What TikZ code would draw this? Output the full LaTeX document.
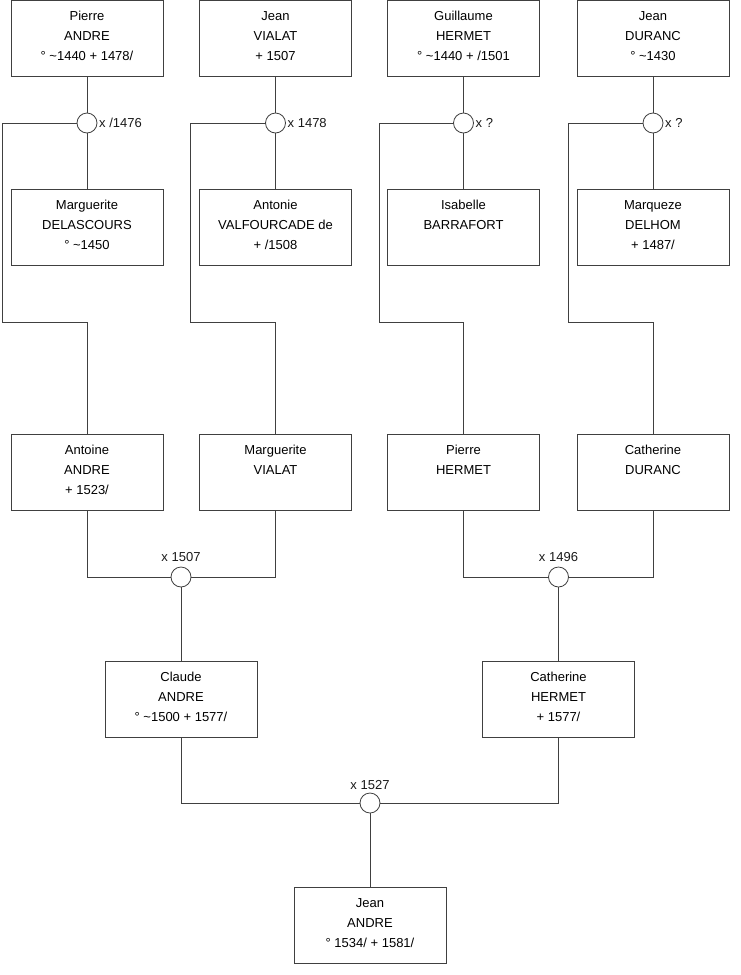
\documentclass[tikz,border=0pt]{standalone}
\usepackage{fontspec}
\setmainfont{Liberation Sans}
\newcommand{\ptxt}[1]{\parbox[t][76pt][t]{152pt}{\centering\fontsize{13}{20}\selectfont\rule{0pt}{20pt}#1}}
\begin{document}
\begin{tikzpicture}[x=1pt,y=1pt,
  person/.style={draw=black!75, line width=1pt, rectangle, inner sep=0pt, fill=white},
  wed/.style={draw=black!75, line width=0.8pt, circle, minimum size=20pt, inner sep=0pt, fill=white},
  lbl/.style={font=\fontsize{13}{15}\selectfont, inner sep=1pt, text=black!90},
  link/.style={draw=black!75, line width=1pt}]
\useasboundingbox (0,0) rectangle (740,-975);
% row 1
\node[person] (p1) at (87,-38) {\ptxt{Pierre\\ANDRE\\° \textasciitilde1440 + 1478/}};
\node[person] (p2) at (275.5,-38) {\ptxt{Jean\\VIALAT\\+ 1507}};
\node[person] (p3) at (463.5,-38) {\ptxt{Guillaume\\HERMET\\° \textasciitilde1440 + /1501}};
\node[person] (p4) at (653,-38) {\ptxt{Jean\\DURANC\\° \textasciitilde1430}};
% row 2
\node[person] (w1) at (87,-227) {\ptxt{Marguerite\\DELASCOURS\\° \textasciitilde1450}};
\node[person] (w2) at (275.5,-227) {\ptxt{Antonie\\VALFOURCADE de\\+ /1508}};
\node[person] (w3) at (463.5,-227) {\ptxt{Isabelle\\BARRAFORT}};
\node[person] (w4) at (653,-227) {\ptxt{Marqueze\\DELHOM\\+ 1487/}};
% row 3
\node[person] (a1) at (87,-472.5) {\ptxt{Antoine\\ANDRE\\+ 1523/}};
\node[person] (a2) at (275.5,-472.5) {\ptxt{Marguerite\\VIALAT}};
\node[person] (a3) at (463.5,-472.5) {\ptxt{Pierre\\HERMET}};
\node[person] (a4) at (653,-472.5) {\ptxt{Catherine\\DURANC}};
% row 4
\node[person] (b1) at (181,-699.5) {\ptxt{Claude\\ANDRE\\° \textasciitilde1500 + 1577/}};
\node[person] (b2) at (558.5,-699.5) {\ptxt{Catherine\\HERMET\\+ 1577/}};
% row 5
\node[person] (j) at (370,-925.5) {\ptxt{Jean\\ANDRE\\° 1534/ + 1581/}};
% marriages
\node[wed] (m1) at (87,-123) {};
\node[wed] (m2) at (275.5,-123) {};
\node[wed] (m3) at (463.5,-123) {};
\node[wed] (m4) at (653,-123) {};
\node[wed] (m5) at (181,-577) {};
\node[wed] (m6) at (558.5,-577) {};
\node[wed] (m7) at (370,-803) {};
% labels
\node[lbl, anchor=west] (l1) at (98,-123) {x /1476};
\node[lbl, anchor=west] (l2) at (286.5,-123) {x 1478};
\node[lbl, anchor=west] (l3) at (474.5,-123) {x ?};
\node[lbl, anchor=west] (l4) at (664,-123) {x ?};
\node[lbl] (l5) at (181,-557) {x 1507};
\node[lbl] (l6) at (558.5,-557) {x 1496};
\node[lbl] (l7) at (370,-785) {x 1527};
% corner coordinates
\coordinate (c1) at (2,-322);
\coordinate (c2) at (190,-322);
\coordinate (c3) at (379,-322);
\coordinate (c4) at (568,-322);
% connectors
\foreach \i in {1,2,3,4}{
  \draw[link] (p\i.south) -- (m\i.north);
  \draw[link] (m\i.south) -- (w\i.north);
  \draw[link] (m\i.west) -| (c\i) -| (a\i.north);
}
\draw[link] (a1.south) |- (m5.west);
\draw[link] (a2.south) |- (m5.east);
\draw[link] (m5.south) -- (b1.north);
\draw[link] (a3.south) |- (m6.west);
\draw[link] (a4.south) |- (m6.east);
\draw[link] (m6.south) -- (b2.north);
\draw[link] (b1.south) |- (m7.west);
\draw[link] (b2.south) |- (m7.east);
\draw[link] (m7.south) -- (j.north);
\end{tikzpicture}
\end{document}
